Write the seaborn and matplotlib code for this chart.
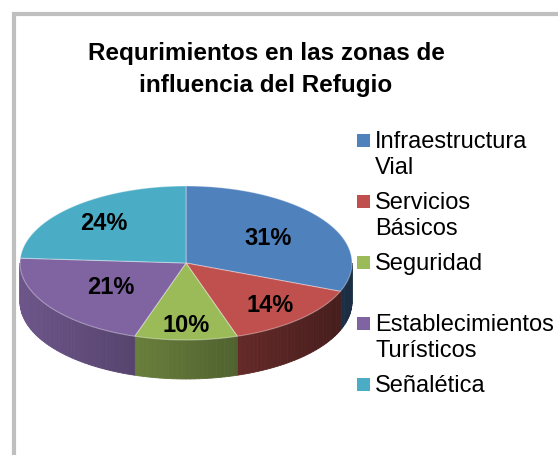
import numpy as np
import matplotlib.pyplot as plt
import seaborn as sns
from matplotlib.patches import Polygon, Rectangle
from matplotlib.colors import to_rgb

# Data
categories = ['Infraestructura\nVial', 'Servicios\nBásicos', 'Seguridad',
              'Establecimientos\nTurísticos', 'Señalética']
values = [31, 14, 10, 21, 24]
title_lines = ['Requrimientos en las zonas de', 'influencia del Refugio']

colors = sns.color_palette(['#4F81BD', '#C0504D', '#9BBB59', '#8064A2', '#4BACC6'])

sns.set_theme(style='white')
plt.rcParams['font.family'] = ['Liberation Sans', 'DejaVu Sans']

fig = plt.figure(figsize=(5.58, 4.56), dpi=100)
ax = fig.add_axes([0, 0, 1, 1])
ax.set_xlim(0, 558)
ax.set_ylim(456, 0)
ax.axis('off')

# chart frame
ax.add_patch(Rectangle((14, 15), 600, 500, fc='white', ec='#BFBFBF', lw=3))

# 3D pie geometry (pixel space)
cx, cy, rx, ry, depth = 186, 264, 166, 77, 39


def ellipse_pt(t):
    r = np.radians(t)
    return cx + rx * np.cos(r), cy - ry * np.sin(r)


total = sum(values)
bounds = 90 - 360 * np.concatenate([[0], np.cumsum(values)]) / total

# side walls (front half only)
for i in range(len(values)):
    a0, a1 = bounds[i], bounds[i + 1]
    lo, hi = max(a1, -180), min(a0, 0)
    if hi <= lo:
        continue
    ts = np.linspace(hi, lo, max(int((hi - lo) / 1.5), 2) + 1)
    base = np.array(to_rgb(colors[i]))
    for t0, t1 in zip(ts[:-1], ts[1:]):
        shade = 0.6 - 0.25 * np.cos(np.radians((t0 + t1) / 2))
        c = np.clip(base * shade, 0, 1)
        x0, y0 = ellipse_pt(t0)
        x1, y1 = ellipse_pt(t1)
        ax.add_patch(Polygon([(x0, y0), (x1, y1), (x1, y1 + depth), (x0, y0 + depth)],
                             closed=True, fc=c, ec=c, lw=0.6))

# top faces
for i in range(len(values)):
    ts = np.linspace(bounds[i], bounds[i + 1], 120)
    pts = [(cx, cy)] + [ellipse_pt(t) for t in ts]
    ax.add_patch(Polygon(pts, closed=True, fc=colors[i], ec=(1, 1, 1, 0.35), lw=0.8))

# percentage labels
label_r = [0.6, 0.74, 0.8, 0.55, 0.72]
for i, v in enumerate(values):
    mid = (bounds[i] + bounds[i + 1]) / 2
    r = np.radians(mid)
    x = cx + rx * label_r[i] * np.cos(r)
    y = cy - ry * label_r[i] * np.sin(r)
    ax.text(x, y, f'{v}%', ha='center', va='center', fontsize=17,
            fontweight='bold', color='black')

# title
for j, line in enumerate(title_lines):
    ax.text(266, 60 + j * 32, line, ha='center', va='baseline', fontsize=17.5,
            fontweight='bold', color='black')

# legend (every entry gets two line slots)
leg_x, leg_y, step, line_h = 357, 135, 61, 26
for i, lab in enumerate(categories):
    y = leg_y + i * step
    ax.add_patch(Rectangle((leg_x, y), 13, 13, fc=colors[i], ec='none'))
    for j, line in enumerate(lab.split('\n')):
        ax.text(leg_x + 18, y + 13 + j * line_h, line, ha='left', va='baseline',
                fontsize=17, color='black')

fig.savefig('out.png', dpi=100)
